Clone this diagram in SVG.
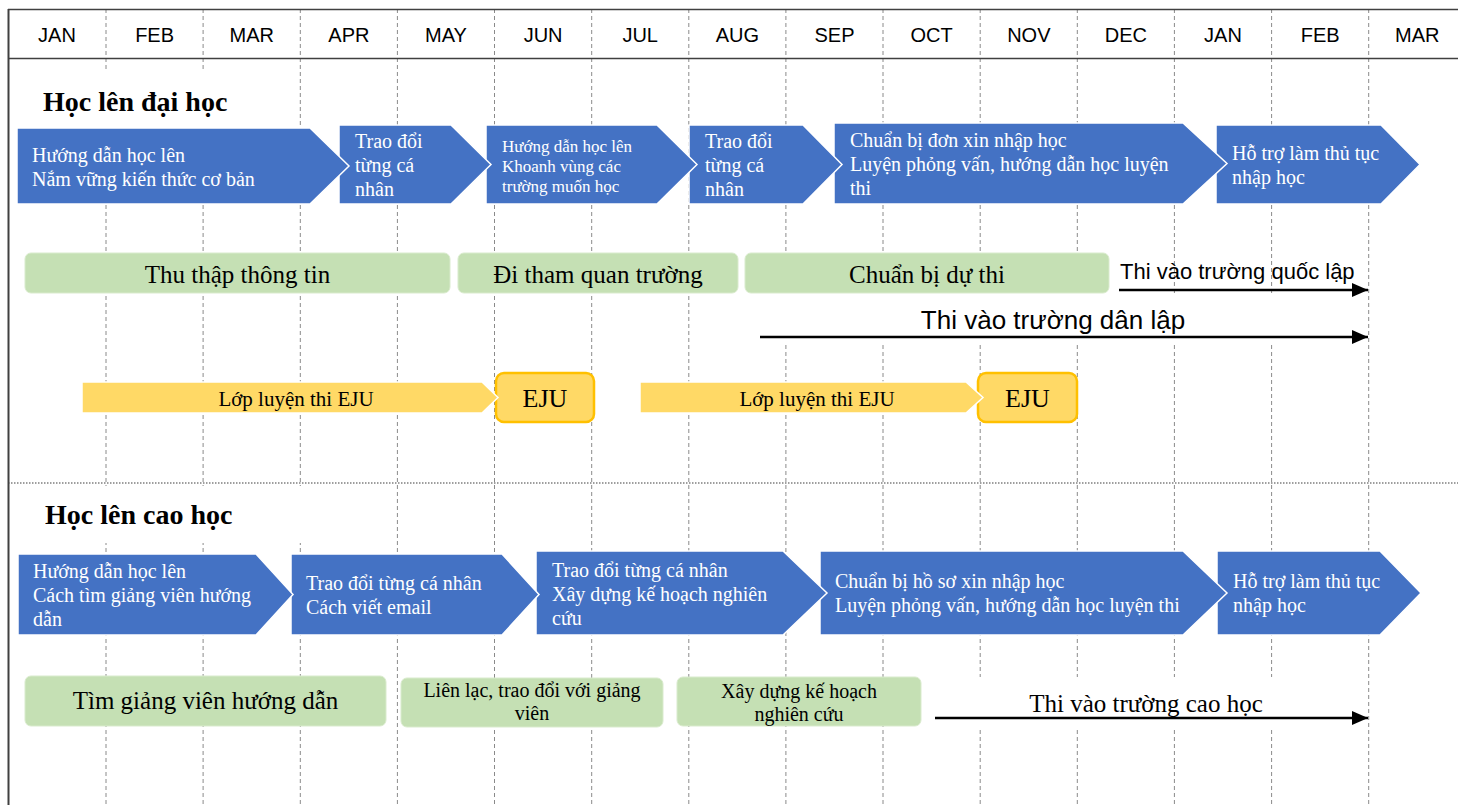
<svg xmlns="http://www.w3.org/2000/svg" width="1458" height="805" viewBox="0 0 1458 805">
<style>
  .grid{stroke:#8a8a8a;stroke-width:1;stroke-dasharray:4 3;fill:none}
  .frame{stroke:#404040;fill:none}
  .mon{font-family:"Liberation Sans",Arial,sans-serif;font-size:20px;fill:#000;text-anchor:middle}
  .title{font-family:"Liberation Serif","Times New Roman",serif;font-size:28px;font-weight:bold;fill:#000}
  .blue{fill:#4472C4;stroke:#ffffff;stroke-width:1.5;stroke-linejoin:miter}
  .bt{font-family:"Liberation Serif","Times New Roman",serif;font-size:20px;fill:#ffffff}
  .bts{font-family:"Liberation Serif","Times New Roman",serif;font-size:17px;fill:#ffffff}
  .green{fill:#C5E0B4;stroke:#D9EBCD;stroke-width:1}
  .gt{font-family:"Liberation Serif","Times New Roman",serif;font-size:25px;fill:#000;text-anchor:middle}
  .gts{font-family:"Liberation Serif","Times New Roman",serif;font-size:20px;fill:#000;text-anchor:middle}
  .yel{fill:#FFD966;stroke:#ffffff;stroke-width:1.5}
  .eju{fill:#FFD966;stroke:#FFC000;stroke-width:2.5}
  .yt{font-family:"Liberation Serif","Times New Roman",serif;font-size:21px;fill:#000;text-anchor:middle}
  .ejt{font-family:"Liberation Serif","Times New Roman",serif;font-size:26px;fill:#000;text-anchor:middle}
  .conn{stroke:#000;stroke-width:2.5;fill:none}
  .mask{fill:#ffffff}
  .st{font-family:"Liberation Sans",Arial,sans-serif;fill:#000}
</style>
<defs>
  <marker id="ah" markerUnits="userSpaceOnUse" markerWidth="16" markerHeight="14" viewBox="0 0 16 14" refX="16" refY="7" orient="auto">
    <path d="M0,0 L16,7 L0,14 Z" fill="#000"/>
  </marker>
</defs>
<rect width="1458" height="805" fill="#ffffff"/>

<g id="grid">
  <line class="grid" x1="106" y1="9" x2="106" y2="805"/>
  <line class="grid" x1="203.1" y1="9" x2="203.1" y2="805"/>
  <line class="grid" x1="300.3" y1="9" x2="300.3" y2="805"/>
  <line class="grid" x1="397.4" y1="9" x2="397.4" y2="805"/>
  <line class="grid" x1="494.5" y1="9" x2="494.5" y2="805"/>
  <line class="grid" x1="591.7" y1="9" x2="591.7" y2="805"/>
  <line class="grid" x1="688.8" y1="9" x2="688.8" y2="805"/>
  <line class="grid" x1="785.9" y1="9" x2="785.9" y2="805"/>
  <line class="grid" x1="883" y1="9" x2="883" y2="805"/>
  <line class="grid" x1="980.2" y1="9" x2="980.2" y2="805"/>
  <line class="grid" x1="1077.3" y1="9" x2="1077.3" y2="805"/>
  <line class="grid" x1="1174.4" y1="9" x2="1174.4" y2="805"/>
  <line class="grid" x1="1271.6" y1="9" x2="1271.6" y2="805"/>
  <line class="grid" x1="1368.7" y1="9" x2="1368.7" y2="805"/>
  <line x1="8" y1="483" x2="1458" y2="483" stroke="#7f7f7f" stroke-width="1.5" stroke-dasharray="1.5 1.5"/>
  <line class="frame" x1="8" y1="9.5" x2="1458" y2="9.5" stroke-width="1.5"/>
  <line class="frame" x1="8" y1="58.5" x2="1458" y2="58.5" stroke-width="1.5"/>
  <line class="frame" x1="8.5" y1="9" x2="8.5" y2="805" stroke-width="2"/>
</g>

<g id="months">
  <text class="mon" x="57" y="42">JAN</text>
  <text class="mon" x="154.6" y="42">FEB</text>
  <text class="mon" x="251.7" y="42">MAR</text>
  <text class="mon" x="348.9" y="42">APR</text>
  <text class="mon" x="446" y="42">MAY</text>
  <text class="mon" x="543.1" y="42">JUN</text>
  <text class="mon" x="640.2" y="42">JUL</text>
  <text class="mon" x="737.4" y="42">AUG</text>
  <text class="mon" x="834.5" y="42">SEP</text>
  <text class="mon" x="931.6" y="42">OCT</text>
  <text class="mon" x="1028.8" y="42">NOV</text>
  <text class="mon" x="1125.9" y="42">DEC</text>
  <text class="mon" x="1223" y="42">JAN</text>
  <text class="mon" x="1320.2" y="42">FEB</text>
  <text class="mon" x="1417.3" y="42">MAR</text>
</g>

<g id="title-daihoc">
  <rect class="mask" x="20" y="72" width="242" height="55"/>
  <text class="title" x="43" y="111">Học lên đại học</text>
</g>
<g id="title-caohoc">
  <rect class="mask" x="20" y="486" width="325" height="57"/>
  <text class="title" x="45" y="524">Học lên cao học</text>
</g>

<!-- Row 1 blue steps (drawn right to left so tips overlay) -->
<g id="a6"><path class="blue" d="M1216,125 L1381,125 L1420,164.5 L1381,204 L1216,204 Z"/>
  <text class="bt" x="1232" y="160">Hỗ trợ làm thủ tục</text><text class="bt" x="1232" y="184">nhập học</text></g>
<g id="a5"><path class="blue" d="M834,123 L1183,123 L1227,163.5 L1183,204 L834,204 Z"/>
  <text class="bt" x="850" y="147">Chuẩn bị đơn xin nhập học</text><text class="bt" x="850" y="171">Luyện phỏng vấn, hướng dẫn học luyện</text><text class="bt" x="850" y="195">thi</text></g>
<g id="a4"><path class="blue" d="M689,125 L803,125 L842,164.5 L803,204 L689,204 Z"/>
  <text class="bt" x="705" y="148">Trao đổi</text><text class="bt" x="705" y="172">từng cá</text><text class="bt" x="705" y="196">nhân</text></g>
<g id="a3"><path class="blue" d="M486,125 L657,125 L697,164.5 L657,204 L486,204 Z"/>
  <text class="bts" x="502" y="152">Hướng dẫn học lên</text><text class="bts" x="502" y="172">Khoanh vùng các</text><text class="bts" x="502" y="192">trường muốn học</text></g>
<g id="a2"><path class="blue" d="M339,125 L451,125 L491,164.5 L451,204 L339,204 Z"/>
  <text class="bt" x="355" y="148">Trao đổi</text><text class="bt" x="355" y="172">từng cá</text><text class="bt" x="355" y="196">nhân</text></g>
<g id="a1"><path class="blue" d="M17,128 L310,128 L349,166 L310,204 L17,204 Z"/>
  <text class="bt" x="32" y="162">Hướng dẫn học lên</text><text class="bt" x="32" y="186">Nắm vững kiến thức cơ bản</text></g>

<!-- Row 1 green -->
<g id="g1"><rect class="green" x="25" y="253" width="425" height="40" rx="6"/><text class="gt" x="237.5" y="283">Thu thập thông tin</text></g>
<g id="g2"><rect class="green" x="458" y="253" width="280" height="40" rx="6"/><text class="gt" x="598" y="283">Đi tham quan trường</text></g>
<g id="g3"><rect class="green" x="745" y="253" width="364" height="40" rx="6"/><text class="gt" x="927" y="283">Chuẩn bị dự thi</text></g>

<g id="lbl-quoclap"><text class="st" x="1120" y="279" font-size="22">Thi vào trường quốc lập</text></g>
<g id="lbl-danlap"><rect class="mask" x="758" y="296" width="608" height="48"/><text class="st" x="1053" y="329" font-size="26" text-anchor="middle">Thi vào trường dân lập</text></g>

<!-- EJU row -->
<g id="eju1"><rect class="eju" x="496" y="373" width="98" height="49" rx="8"/><text class="ejt" x="545" y="407">EJU</text></g>
<g id="y1"><path class="yel" d="M82,382 L482,382 L498,397.5 L482,413 L82,413 Z"/><text class="yt" x="296" y="406">Lớp luyện thi EJU</text></g>
<g id="eju2"><rect class="eju" x="978" y="373" width="99" height="49" rx="8"/><text class="ejt" x="1027.5" y="407">EJU</text></g>
<g id="y2"><path class="yel" d="M640,382 L966,382 L983,397.5 L966,413 L640,413 Z"/><text class="yt" x="817" y="406">Lớp luyện thi EJU</text></g>

<!-- Row 2 blue steps -->
<g id="b5"><path class="blue" d="M1217,551 L1380,551 L1421,593 L1380,635 L1217,635 Z"/>
  <text class="bt" x="1233" y="588">Hỗ trợ làm thủ tục</text><text class="bt" x="1233" y="612">nhập học</text></g>
<g id="b4"><path class="blue" d="M820,551 L1183,551 L1227,593 L1183,635 L820,635 Z"/>
  <text class="bt" x="835" y="588">Chuẩn bị hồ sơ xin nhập học</text><text class="bt" x="835" y="612">Luyện phỏng vấn, hướng dẫn học luyện thi</text></g>
<g id="b3"><path class="blue" d="M536,551 L783,551 L827,593 L783,635 L536,635 Z"/>
  <text class="bt" x="552" y="577">Trao đổi từng cá nhân</text><text class="bt" x="552" y="601">Xây dựng kế hoạch nghiên</text><text class="bt" x="552" y="625">cứu</text></g>
<g id="b2"><path class="blue" d="M291,554 L502,554 L539,594.5 L502,635 L291,635 Z"/>
  <text class="bt" x="306" y="590">Trao đổi từng cá nhân</text><text class="bt" x="306" y="614">Cách viết email</text></g>
<g id="b1"><path class="blue" d="M18,554 L256,554 L293,594.5 L256,635 L18,635 Z"/>
  <text class="bt" x="33" y="578">Hướng dẫn học lên</text><text class="bt" x="33" y="602">Cách tìm giảng viên hướng</text><text class="bt" x="33" y="626">dẫn</text></g>

<!-- Row 2 green -->
<g id="h1"><rect class="green" x="25" y="676" width="361" height="50" rx="6"/><text class="gt" x="205.5" y="709" font-size="26">Tìm giảng viên hướng dẫn</text></g>
<g id="h2"><rect class="green" x="401" y="678" width="262" height="49" rx="6"/><text class="gts" x="532" y="697">Liên lạc, trao đổi với giảng</text><text class="gts" x="532" y="720">viên</text></g>
<g id="h3"><rect class="green" x="677" y="677" width="244" height="49" rx="6"/><text class="gts" x="799" y="698">Xây dựng kế hoạch</text><text class="gts" x="799" y="721">nghiên cứu</text></g>

<g id="lbl-caohoc"><rect class="mask" x="933" y="677" width="433" height="52"/><text class="gt" x="1146" y="712" font-size="26">Thi vào trường cao học</text></g>

<g id="connectors">
  <line class="conn" x1="1119" y1="290" x2="1368" y2="290" marker-end="url(#ah)"/>
  <line class="conn" x1="760" y1="337" x2="1368" y2="337" marker-end="url(#ah)"/>
  <line class="conn" x1="935" y1="718" x2="1368" y2="718" marker-end="url(#ah)"/>
</g>
</svg>
